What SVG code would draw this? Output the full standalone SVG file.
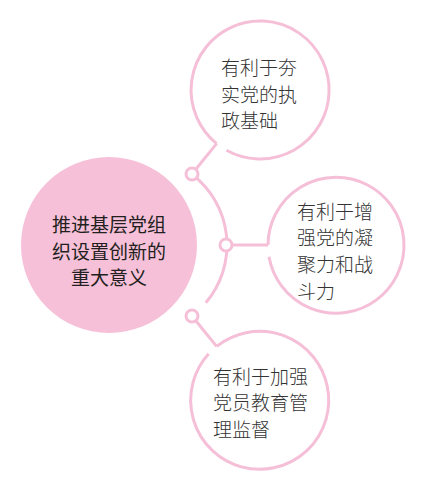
<svg xmlns="http://www.w3.org/2000/svg" width="431" height="497" viewBox="0 0 431 497">
<style>
.ring{fill:none;stroke:#f5bfd7;stroke-width:3}
.con{fill:none;stroke:#f5bfd7;stroke-width:3}
.dot{fill:#fff;stroke:#f5bfd7;stroke-width:3}
.t{font-family:"Noto Sans CJK SC","Noto Sans CJK JP",sans-serif;font-size:19px;fill:#333;font-weight:300}
.tc{font-family:"Noto Sans CJK SC","Noto Sans CJK JP",sans-serif;font-size:19px;fill:#231f20;font-weight:400;text-anchor:middle}
</style>
<rect width="431" height="497" fill="#fff"/>
<g id="center">
<circle cx="109" cy="245" r="88" fill="#f6c0d8"/>
<text class="tc" x="109" y="232">推进基层党组</text>
<text class="tc" x="109" y="258.5">织设置创新的</text>
<text class="tc" x="109" y="285">重大意义</text>
</g>
<g id="connectors">
<path class="con" d="M191.9,174.2 A89,89 0 0 1 205.8,302.7"/>
<path class="con" d="M192,174 L216.6,143.6"/>
<path class="con" d="M227,245 L268,245"/>
<path class="con" d="M192,316 L216.6,346.4"/>
<circle class="dot" cx="192" cy="174" r="6"/>
<circle class="dot" cx="226" cy="245" r="6"/>
<circle class="dot" cx="192" cy="316" r="6"/>
</g>
<g id="node-top">
<path class="ring" d="M216.6,143.6 A69,69 0 1 1 226.5,150.3"/>
<text class="t" x="221" y="75">有利于夯</text>
<text class="t" x="221" y="102">实党的执</text>
<text class="t" x="221" y="128">政基础</text>
</g>
<g id="node-middle">
<path class="ring" d="M268,245 A68,68 0 1 1 269,256.8"/>
<text class="t" x="297" y="219">有利于增</text>
<text class="t" x="297" y="245">强党的凝</text>
<text class="t" x="297" y="272">聚力和战</text>
<text class="t" x="297" y="299">斗力</text>
</g>
<g id="node-bottom">
<path class="ring" d="M216.6,346.4 A69,69 0 1 1 208.7,353.8"/>
<text class="t" x="213" y="384">有利于加强</text>
<text class="t" x="213" y="410">党员教育管</text>
<text class="t" x="213" y="437">理监督</text>
</g>
</svg>
